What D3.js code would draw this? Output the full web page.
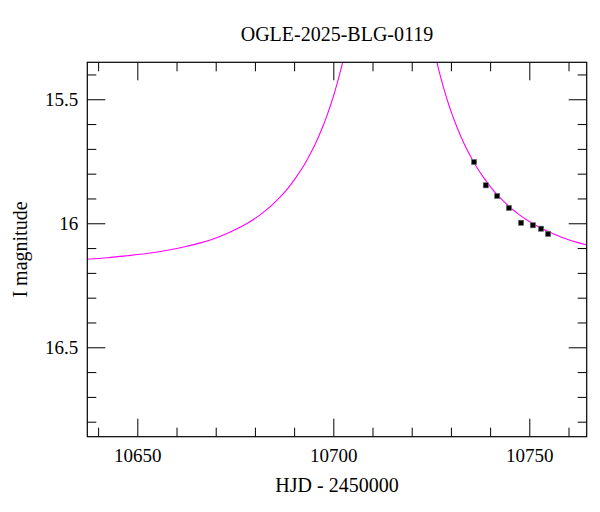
<!DOCTYPE html>
<html><head><meta charset="utf-8">
<script src="https://cdn.jsdelivr.net/npm/d3@7"></script>
<style>body{margin:0;background:#fff}svg{display:block}</style>
</head><body><svg id="c" width="600" height="512"></svg>
<script>
const title = "OGLE-2025-BLG-0119";
const xLabel = "HJD - 2450000";
const yLabel = "I magnitude";
const xMajorTicks = [10650, 10700, 10750];
const xMinorTicks = [10640, 10660, 10670, 10680, 10690, 10710, 10720, 10730, 10740, 10760];
const yMajorTicks = [15.5, 16, 16.5];
const yMinorTicks = [15.4, 15.6, 15.7, 15.8, 15.9, 16.1, 16.2, 16.3, 16.4, 16.6, 16.7, 16.8];
const xDomain = [10637.24, 10764.64];
const yDomain = [15.351, 16.8605];

// OGLE photometry
const dataHJD = [10735.9, 10738.9, 10741.8, 10744.8, 10747.9, 10750.9, 10753.0, 10754.8];
const dataMag = [15.753, 15.847, 15.890, 15.938, 15.998, 16.008, 16.022, 16.043];
const dataErr = [0.006, 0.006, 0.006, 0.006, 0.006, 0.006, 0.006, 0.007];

// model light curve, rising branch
const modelRiseHJD = [10637.2, 10642.4, 10647.4, 10652.4, 10657.4, 10662.4, 10666.4, 10670.4, 10674.4, 10678.4,
                      10681.4, 10684.4, 10686.4, 10688.4, 10690.4, 10692.4, 10693.4, 10694.4, 10695.4, 10696.4,
                      10697.4, 10698.4, 10699.4, 10700.4, 10701.4, 10702.4, 10703.4];
const modelRiseMag = [16.145, 16.139, 16.131, 16.122, 16.110, 16.094, 16.078, 16.057, 16.030, 15.997,
                      15.965, 15.926, 15.895, 15.859, 15.817, 15.769, 15.742, 15.712, 15.680, 15.645,
                      15.607, 15.565, 15.519, 15.468, 15.412, 15.349, 15.279];
// model light curve, falling branch
const modelFallHJD = [10725.4, 10726.4, 10727.4, 10728.4, 10729.4, 10730.4, 10731.4, 10732.4, 10733.4, 10734.4,
                      10735.4, 10736.4, 10738.4, 10740.4, 10742.4, 10744.4, 10747.4, 10750.4, 10754.4, 10758.4,
                      10762.4, 10766.4];
const modelFallMag = [15.279, 15.349, 15.412, 15.468, 15.519, 15.565, 15.607, 15.645, 15.680, 15.712,
                      15.742, 15.769, 15.817, 15.859, 15.895, 15.926, 15.965, 15.997, 16.030, 16.057,
                      16.078, 16.094];

const L = 87.3, R = 586.7, T = 62.3, B = 436.7;
const svg = d3.select("#c");
const x = d3.scaleLinear().domain(xDomain).range([L, R]);
const y = d3.scaleLinear().domain(yDomain).range([T, B]);
const font = "'Liberation Serif', 'Times New Roman', serif";

svg.append("defs").append("clipPath").attr("id", "clip")
  .append("rect").attr("x", L).attr("y", T).attr("width", R - L).attr("height", B - T);

// model curve
const seg1 = modelRiseHJD.map((t, i) => [t, modelRiseMag[i]]);
const seg2 = modelFallHJD.map((t, i) => [t, modelFallMag[i]]);
const line = d3.line().x(d => x(d[0])).y(d => y(d[1])).curve(d3.curveMonotoneX);
const gc = svg.append("g").attr("clip-path", "url(#clip)");
[seg1, seg2].forEach(s => gc.append("path").attr("d", line(s))
  .attr("fill", "none").attr("stroke", "#ff00ff").attr("stroke-width", 1.1));

// data points
const pts = svg.append("g");
dataHJD.forEach((t, i) => {
  pts.append("line").attr("x1", x(t)).attr("x2", x(t))
    .attr("y1", y(dataMag[i] - dataErr[i])).attr("y2", y(dataMag[i] + dataErr[i]))
    .attr("stroke", "#000").attr("stroke-width", 1);
  pts.append("rect").attr("x", x(t) - 2.6).attr("y", y(dataMag[i]) - 2.6)
    .attr("width", 5.2).attr("height", 5.2).attr("fill", "#000")
    .attr("stroke", "#777").attr("stroke-width", 0.6);
});

function styleAxis(g) {
  g.select(".domain").remove();
  g.selectAll(".tick line").attr("stroke", "#000").attr("stroke-width", 1);
  g.selectAll("text").attr("font-family", font).attr("font-size", 19).attr("fill", "#000");
}
const fmt = d => String(d);
// bottom
svg.append("g").attr("transform", `translate(0,${B})`)
  .call(d3.axisBottom(x).tickValues(xMajorTicks).tickSize(-18).tickPadding(12).tickFormat(fmt)).call(styleAxis);
svg.append("g").attr("transform", `translate(0,${B})`)
  .call(d3.axisBottom(x).tickValues(xMinorTicks).tickSize(-9).tickFormat("")).call(styleAxis);
// top
svg.append("g").attr("transform", `translate(0,${T})`)
  .call(d3.axisTop(x).tickValues(xMajorTicks).tickSize(-18).tickFormat("")).call(styleAxis);
svg.append("g").attr("transform", `translate(0,${T})`)
  .call(d3.axisTop(x).tickValues(xMinorTicks).tickSize(-9).tickFormat("")).call(styleAxis);
// left
svg.append("g").attr("transform", `translate(${L},0)`)
  .call(d3.axisLeft(y).tickValues(yMajorTicks).tickSize(-18).tickPadding(9).tickFormat(fmt)).call(styleAxis);
svg.append("g").attr("transform", `translate(${L},0)`)
  .call(d3.axisLeft(y).tickValues(yMinorTicks).tickSize(-9).tickFormat("")).call(styleAxis);
// right
svg.append("g").attr("transform", `translate(${R},0)`)
  .call(d3.axisRight(y).tickValues(yMajorTicks).tickSize(-18).tickFormat("")).call(styleAxis);
svg.append("g").attr("transform", `translate(${R},0)`)
  .call(d3.axisRight(y).tickValues(yMinorTicks).tickSize(-9).tickFormat("")).call(styleAxis);

// frame
svg.append("rect").attr("x", L).attr("y", T).attr("width", R - L).attr("height", B - T)
  .attr("fill", "none").attr("stroke", "#000").attr("stroke-width", 1.2);

// texts
svg.append("text").attr("x", (L + R) / 2).attr("y", 40.7).attr("text-anchor", "middle")
  .attr("font-family", font).attr("font-size", 20).text(title);
svg.append("text").attr("x", (L + R) / 2).attr("y", 491.5).attr("text-anchor", "middle")
  .attr("font-family", font).attr("font-size", 20).text(xLabel);
svg.append("text").attr("transform", `translate(26.7,${(T + B) / 2}) rotate(-90)`).attr("text-anchor", "middle")
  .attr("font-family", font).attr("font-size", 20).text(yLabel);
</script></body></html>
